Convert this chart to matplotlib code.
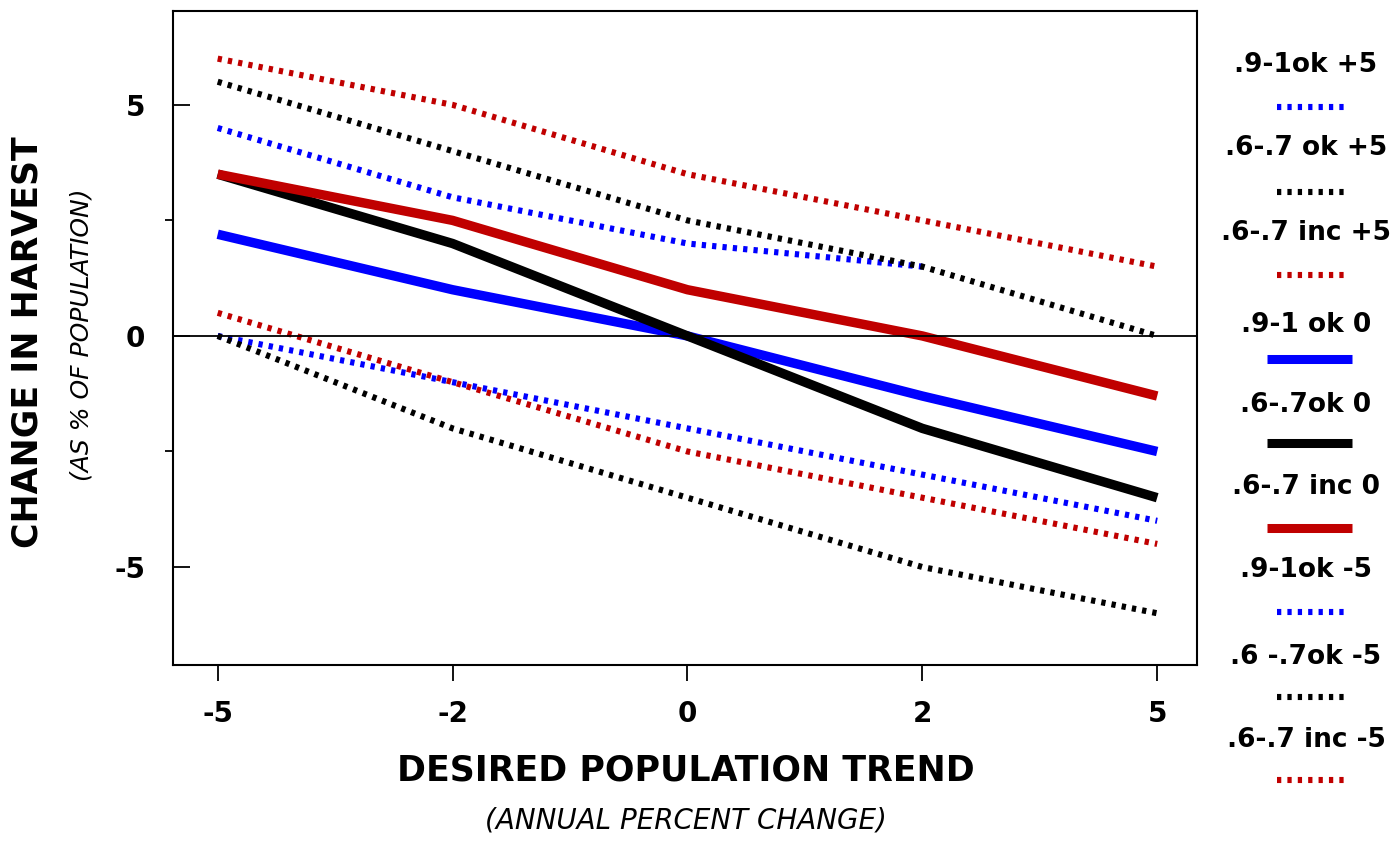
import numpy as np
import matplotlib
matplotlib.use("Agg")
from matplotlib import pyplot as plt
from matplotlib.lines import Line2D

# desired population trend (categorical x axis)
trend_labels = ["-5", "-2", "0", "2", "5"]

# change in harvest, % of population
ok91_p5 = [4.5, 3.0, 2.0, 1.5, np.nan]
ok67_p5 = [5.5, 4.0, 2.5, 1.5, 0.0]
inc67_p5 = [6.0, 5.0, 3.5, 2.5, 1.5]
ok91_0 = [2.2, 1.0, 0.0, -1.3, -2.5]
ok67_0 = [3.5, 2.0, 0.0, -2.0, -3.5]
inc67_0 = [3.5, 2.5, 1.0, 0.0, -1.3]
ok91_m5 = [0.0, -1.0, -2.0, -3.0, -4.0]
ok67_m5 = [0.0, -2.0, -3.5, -5.0, -6.0]
inc67_m5 = [0.5, -1.0, -2.5, -3.5, -4.5]

series_labels = [".9-1ok +5", ".6-.7 ok +5", ".6-.7 inc +5",
                 ".9-1 ok 0", ".6-.7ok 0", ".6-.7 inc 0",
                 ".9-1ok -5", ".6 -.7ok -5", ".6-.7 inc -5"]

BLUE = "#0000ff"
RED = "#c00000"
BLACK = "#000000"
DOT = (0, (0.7, 1.0))


def main():
    fig = plt.figure(figsize=(13.99, 8.42), dpi=100)
    ax = fig.add_axes([0.1237, 0.2102, 0.7320, 0.7767])

    x = np.arange(len(trend_labels))
    series = [ok91_p5, ok67_p5, inc67_p5, ok91_0, ok67_0, inc67_0,
              ok91_m5, ok67_m5, inc67_m5]
    colors = [BLUE, BLACK, RED] * 3
    solid = [False, False, False, True, True, True, False, False, False]

    for ys, c, s in zip(series, colors, solid):
        if s:
            ax.plot(x, ys, color=c, lw=6.8, solid_capstyle="butt", zorder=3)
        else:
            ax.plot(x, ys, color=c, lw=4.4, linestyle=DOT, zorder=2)

    ax.axhline(0, color="black", lw=1.3, zorder=4)

    ax.set_xlim(-0.19, 4.17)
    ax.set_ylim(-7.12, 7.03)
    ax.set_xticks(x)
    ax.set_xticklabels(trend_labels)
    ax.set_yticks([-5, 0, 5])
    ax.set_yticklabels(["-5", "0", "5"])
    ax.set_yticks([-2.5, 2.5], minor=True)

    ax.tick_params(axis="x", direction="out", length=11.5, width=1.3,
                   pad=14, labelsize=20)
    ax.tick_params(axis="y", which="major", direction="in", length=12,
                   width=1.3, pad=20, labelsize=20)
    ax.tick_params(axis="y", which="minor", direction="out", length=6,
                   width=1.3)
    for lab in ax.get_xticklabels() + ax.get_yticklabels():
        lab.set_fontweight("bold")
    for sp in ax.spines.values():
        sp.set_linewidth(1.5)

    # axis titles
    fig.text(0.4904, 0.0855, "DESIRED POPULATION TREND", ha="center",
             va="center", fontsize=25, fontweight="bold")
    fig.text(0.4904, 0.0250, "(ANNUAL PERCENT CHANGE)", ha="center",
             va="center", fontsize=20, style="italic")
    fig.text(0.020, 0.594, "CHANGE IN HARVEST", ha="center", va="center",
             rotation=90, fontsize=25, fontweight="bold")
    fig.text(0.0586, 0.602, "(AS % OF POPULATION)", ha="center",
             va="center", rotation=90, fontsize=18, style="italic")

    # hand-made legend on the right
    W, H = 1399., 842.
    lab_y = [65, 148, 233, 325, 405, 487, 570, 657, 740]
    line_y = [107, 192, 275, 359, 443, 528, 612, 697, 780]
    for lab, ly, sy, c, s in zip(series_labels, lab_y, line_y, colors, solid):
        fig.text(1306 / W, 1 - ly / H, lab, ha="center", va="center",
                 fontsize=19, fontweight="bold")
        if s:
            fig.add_artist(Line2D([1267 / W, 1352 / W], [1 - sy / H] * 2,
                                  color=c, lw=6.5, solid_capstyle="butt"))
        else:
            fig.add_artist(Line2D([1277 / W, 1347 / W], [1 - sy / H] * 2,
                                  color=c, lw=4.4, linestyle=DOT))

    fig.savefig("out.png", dpi=100)


if __name__ == "__main__":
    main()
